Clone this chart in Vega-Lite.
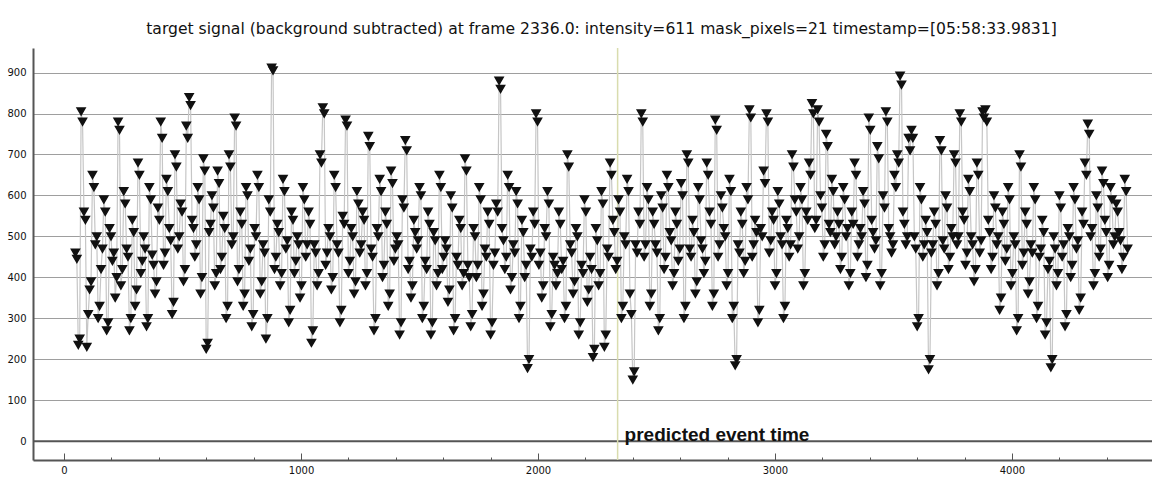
{
  "$schema": "https://vega.github.io/schema/vega-lite/v6.json",
  "autosize": "none",
  "width": 1119,
  "height": 412,
  "padding": {"left": 33, "top": 48, "right": 0, "bottom": 28},
  "background": "white",
  "config": {"view": {"stroke": null}},
  "title": {
    "text": "target signal (background subtracted) at frame 2336.0: intensity=611 mask_pixels=21 timestamp=[05:58:33.9831]",
    "font": "DejaVu Sans",
    "fontSize": 15.6,
    "fontWeight": "normal",
    "color": "#111111",
    "anchor": "middle",
    "dx": 9,
    "offset": 10
  },
  "datasets": {
    "signal": [
      {"f":48,"v":460},{"f":60,"v":235},{"f":72,"v":805},{"f":84,"v":560},{"f":96,"v":230},{"f":108,"v":370},{"f":120,"v":650},{"f":132,"v":480},{"f":144,"v":300},{"f":156,"v":420},
      {"f":168,"v":590},{"f":180,"v":270},{"f":192,"v":520},{"f":204,"v":440},{"f":216,"v":350},{"f":228,"v":780},{"f":240,"v":380},{"f":252,"v":610},{"f":264,"v":470},{"f":276,"v":270},
      {"f":288,"v":540},{"f":300,"v":330},{"f":312,"v":680},{"f":324,"v":410},{"f":336,"v":500},{"f":348,"v":280},{"f":360,"v":620},{"f":372,"v":455},{"f":384,"v":360},{"f":396,"v":570},
      {"f":408,"v":780},{"f":420,"v":430},{"f":432,"v":640},{"f":444,"v":520},{"f":456,"v":310},{"f":468,"v":700},{"f":480,"v":470},{"f":492,"v":580},{"f":504,"v":390},{"f":516,"v":770},
      {"f":528,"v":840},{"f":540,"v":540},{"f":552,"v":450},{"f":564,"v":620},{"f":576,"v":360},{"f":588,"v":690},{"f":600,"v":225},{"f":612,"v":510},{"f":624,"v":600},{"f":636,"v":380},
      {"f":648,"v":660},{"f":660,"v":420},{"f":672,"v":550},{"f":684,"v":300},{"f":696,"v":700},{"f":708,"v":480},{"f":720,"v":790},{"f":732,"v":390},{"f":744,"v":560},{"f":756,"v":330},
      {"f":768,"v":620},{"f":780,"v":440},{"f":792,"v":280},{"f":804,"v":520},{"f":816,"v":650},{"f":828,"v":360},{"f":840,"v":480},{"f":852,"v":250},{"f":864,"v":590},{"f":876,"v":912},
      {"f":888,"v":420},{"f":900,"v":530},{"f":912,"v":380},{"f":924,"v":640},{"f":936,"v":470},{"f":948,"v":290},{"f":960,"v":560},{"f":972,"v":410},{"f":984,"v":500},{"f":996,"v":350},
      {"f":1008,"v":620},{"f":1020,"v":450},{"f":1032,"v":560},{"f":1044,"v":240},{"f":1056,"v":480},{"f":1068,"v":380},{"f":1080,"v":700},{"f":1092,"v":815},{"f":1104,"v":430},{"f":1116,"v":520},
      {"f":1128,"v":370},{"f":1140,"v":650},{"f":1152,"v":480},{"f":1164,"v":290},{"f":1176,"v":550},{"f":1188,"v":785},{"f":1200,"v":410},{"f":1212,"v":520},{"f":1224,"v":360},{"f":1236,"v":610},
      {"f":1248,"v":460},{"f":1260,"v":560},{"f":1272,"v":380},{"f":1284,"v":745},{"f":1296,"v":470},{"f":1308,"v":270},{"f":1320,"v":520},{"f":1332,"v":640},{"f":1344,"v":400},{"f":1356,"v":560},
      {"f":1368,"v":330},{"f":1380,"v":660},{"f":1392,"v":440},{"f":1404,"v":500},{"f":1416,"v":260},{"f":1428,"v":590},{"f":1440,"v":735},{"f":1452,"v":420},{"f":1464,"v":350},{"f":1476,"v":540},
      {"f":1488,"v":470},{"f":1500,"v":620},{"f":1512,"v":300},{"f":1524,"v":440},{"f":1536,"v":560},{"f":1548,"v":260},{"f":1560,"v":510},{"f":1572,"v":380},{"f":1584,"v":650},{"f":1596,"v":420},
      {"f":1608,"v":490},{"f":1620,"v":340},{"f":1632,"v":600},{"f":1644,"v":270},{"f":1656,"v":450},{"f":1668,"v":540},{"f":1680,"v":380},{"f":1692,"v":690},{"f":1704,"v":430},{"f":1716,"v":280},
      {"f":1728,"v":520},{"f":1740,"v":400},{"f":1752,"v":620},{"f":1764,"v":330},{"f":1776,"v":470},{"f":1788,"v":560},{"f":1800,"v":260},{"f":1812,"v":430},{"f":1824,"v":580},{"f":1836,"v":880},
      {"f":1848,"v":520},{"f":1860,"v":420},{"f":1872,"v":650},{"f":1884,"v":370},{"f":1896,"v":480},{"f":1908,"v":610},{"f":1920,"v":300},{"f":1932,"v":540},{"f":1944,"v":400},{"f":1956,"v":178},
      {"f":1968,"v":470},{"f":1980,"v":560},{"f":1992,"v":800},{"f":2004,"v":430},{"f":2016,"v":350},{"f":2028,"v":520},{"f":2040,"v":610},{"f":2052,"v":280},{"f":2064,"v":450},{"f":2076,"v":380},
      {"f":2088,"v":560},{"f":2100,"v":420},{"f":2112,"v":300},{"f":2124,"v":700},{"f":2136,"v":480},{"f":2148,"v":360},{"f":2160,"v":520},{"f":2172,"v":260},{"f":2184,"v":430},{"f":2196,"v":590},
      {"f":2208,"v":340},{"f":2220,"v":450},{"f":2232,"v":205},{"f":2244,"v":520},{"f":2256,"v":380},{"f":2268,"v":610},{"f":2280,"v":230},{"f":2292,"v":470},{"f":2304,"v":680},{"f":2316,"v":540},
      {"f":2328,"v":420},{"f":2340,"v":590},{"f":2352,"v":300},{"f":2364,"v":500},{"f":2376,"v":640},{"f":2388,"v":360},{"f":2400,"v":150},{"f":2412,"v":480},{"f":2424,"v":560},{"f":2436,"v":800},
      {"f":2448,"v":450},{"f":2460,"v":620},{"f":2472,"v":330},{"f":2484,"v":560},{"f":2496,"v":480},{"f":2508,"v":270},{"f":2520,"v":600},{"f":2532,"v":420},{"f":2544,"v":650},{"f":2556,"v":510},
      {"f":2568,"v":380},{"f":2580,"v":560},{"f":2592,"v":440},{"f":2604,"v":630},{"f":2616,"v":300},{"f":2628,"v":700},{"f":2640,"v":470},{"f":2652,"v":540},{"f":2664,"v":360},{"f":2676,"v":620},
      {"f":2688,"v":490},{"f":2700,"v":410},{"f":2712,"v":680},{"f":2724,"v":560},{"f":2736,"v":330},{"f":2748,"v":785},{"f":2760,"v":450},{"f":2772,"v":600},{"f":2784,"v":520},{"f":2796,"v":380},
      {"f":2808,"v":640},{"f":2820,"v":300},{"f":2832,"v":185},{"f":2844,"v":480},{"f":2856,"v":560},{"f":2868,"v":410},{"f":2880,"v":620},{"f":2892,"v":810},{"f":2904,"v":450},{"f":2916,"v":540},
      {"f":2928,"v":290},{"f":2940,"v":520},{"f":2952,"v":660},{"f":2964,"v":800},{"f":2976,"v":460},{"f":2988,"v":560},{"f":3000,"v":380},{"f":3012,"v":610},{"f":3024,"v":500},{"f":3036,"v":300},
      {"f":3048,"v":540},{"f":3060,"v":450},{"f":3072,"v":700},{"f":3084,"v":590},{"f":3096,"v":470},{"f":3108,"v":620},{"f":3120,"v":380},{"f":3132,"v":560},{"f":3144,"v":680},{"f":3156,"v":825},
      {"f":3168,"v":520},{"f":3180,"v":810},{"f":3192,"v":600},{"f":3204,"v":450},{"f":3216,"v":750},{"f":3228,"v":530},{"f":3240,"v":640},{"f":3252,"v":480},{"f":3264,"v":560},{"f":3276,"v":420},
      {"f":3288,"v":620},{"f":3300,"v":500},{"f":3312,"v":380},{"f":3324,"v":560},{"f":3336,"v":680},{"f":3348,"v":450},{"f":3360,"v":520},{"f":3372,"v":610},{"f":3384,"v":400},{"f":3396,"v":790},
      {"f":3408,"v":540},{"f":3420,"v":470},{"f":3432,"v":720},{"f":3444,"v":380},{"f":3456,"v":600},{"f":3468,"v":805},{"f":3480,"v":520},{"f":3492,"v":460},{"f":3504,"v":650},{"f":3516,"v":700},
      {"f":3528,"v":892},{"f":3540,"v":560},{"f":3552,"v":480},{"f":3564,"v":740},{"f":3576,"v":760},{"f":3588,"v":500},{"f":3600,"v":280},{"f":3612,"v":620},{"f":3624,"v":450},{"f":3636,"v":540},
      {"f":3648,"v":175},{"f":3660,"v":460},{"f":3672,"v":560},{"f":3684,"v":380},{"f":3696,"v":735},{"f":3708,"v":490},{"f":3720,"v":600},{"f":3732,"v":420},{"f":3744,"v":520},{"f":3756,"v":700},
      {"f":3768,"v":480},{"f":3780,"v":800},{"f":3792,"v":560},{"f":3804,"v":430},{"f":3816,"v":640},{"f":3828,"v":500},{"f":3840,"v":390},{"f":3852,"v":680},{"f":3864,"v":460},{"f":3876,"v":805},
      {"f":3888,"v":810},{"f":3900,"v":540},{"f":3912,"v":420},{"f":3924,"v":600},{"f":3936,"v":480},{"f":3948,"v":320},{"f":3960,"v":560},{"f":3972,"v":440},{"f":3984,"v":620},{"f":3996,"v":380},
      {"f":4008,"v":500},{"f":4020,"v":270},{"f":4032,"v":700},{"f":4044,"v":430},{"f":4056,"v":560},{"f":4068,"v":360},{"f":4080,"v":480},{"f":4092,"v":620},{"f":4104,"v":300},{"f":4116,"v":450},
      {"f":4128,"v":540},{"f":4140,"v":260},{"f":4152,"v":420},{"f":4164,"v":180},{"f":4176,"v":500},{"f":4188,"v":380},{"f":4200,"v":600},{"f":4212,"v":450},{"f":4224,"v":280},{"f":4236,"v":520},
      {"f":4248,"v":400},{"f":4260,"v":620},{"f":4272,"v":470},{"f":4284,"v":320},{"f":4296,"v":560},{"f":4308,"v":680},{"f":4320,"v":775},{"f":4332,"v":500},{"f":4344,"v":380},{"f":4356,"v":600},
      {"f":4368,"v":450},{"f":4380,"v":660},{"f":4392,"v":540},{"f":4404,"v":400},{"f":4416,"v":620},{"f":4428,"v":480},{"f":4440,"v":580},{"f":4452,"v":510},{"f":4464,"v":420},{"f":4476,"v":640},
      {"f":4488,"v":470},
      {"f":54,"v":445},{"f":66,"v":250},{"f":78,"v":780},{"f":90,"v":540},{"f":102,"v":310},{"f":114,"v":390},{"f":126,"v":620},{"f":138,"v":500},{"f":150,"v":330},{"f":162,"v":470},
      {"f":174,"v":560},{"f":186,"v":290},{"f":198,"v":500},{"f":210,"v":460},{"f":222,"v":400},{"f":234,"v":760},{"f":246,"v":420},{"f":258,"v":580},{"f":270,"v":450},{"f":282,"v":300},
      {"f":294,"v":510},{"f":306,"v":370},{"f":318,"v":650},{"f":330,"v":440},{"f":342,"v":470},{"f":354,"v":300},{"f":366,"v":590},{"f":378,"v":430},{"f":390,"v":390},{"f":402,"v":540},
      {"f":414,"v":740},{"f":426,"v":460},{"f":438,"v":610},{"f":450,"v":490},{"f":462,"v":340},{"f":474,"v":670},{"f":486,"v":500},{"f":498,"v":560},{"f":510,"v":420},{"f":522,"v":740},
      {"f":534,"v":820},{"f":546,"v":520},{"f":558,"v":480},{"f":570,"v":590},{"f":582,"v":400},{"f":594,"v":660},{"f":606,"v":240},{"f":618,"v":530},{"f":630,"v":570},{"f":642,"v":410},
      {"f":654,"v":630},{"f":666,"v":450},{"f":678,"v":520},{"f":690,"v":330},{"f":702,"v":670},{"f":714,"v":500},{"f":726,"v":770},{"f":738,"v":420},{"f":750,"v":530},{"f":762,"v":360},
      {"f":774,"v":600},{"f":786,"v":470},{"f":798,"v":310},{"f":810,"v":500},{"f":822,"v":620},{"f":834,"v":390},{"f":846,"v":460},{"f":858,"v":300},{"f":870,"v":560},{"f":882,"v":905},
      {"f":894,"v":450},{"f":906,"v":510},{"f":918,"v":410},{"f":930,"v":610},{"f":942,"v":490},{"f":954,"v":320},{"f":966,"v":540},{"f":978,"v":440},{"f":990,"v":480},{"f":1002,"v":380},
      {"f":1014,"v":590},{"f":1026,"v":480},{"f":1038,"v":530},{"f":1050,"v":270},{"f":1062,"v":460},{"f":1074,"v":410},{"f":1086,"v":680},{"f":1098,"v":800},{"f":1110,"v":460},{"f":1122,"v":500},
      {"f":1134,"v":400},{"f":1146,"v":620},{"f":1158,"v":460},{"f":1170,"v":320},{"f":1182,"v":530},{"f":1194,"v":770},{"f":1206,"v":440},{"f":1218,"v":500},{"f":1230,"v":390},{"f":1242,"v":580},
      {"f":1254,"v":480},{"f":1266,"v":540},{"f":1278,"v":410},{"f":1290,"v":720},{"f":1302,"v":450},{"f":1314,"v":300},{"f":1326,"v":500},{"f":1338,"v":610},{"f":1350,"v":430},{"f":1362,"v":530},
      {"f":1374,"v":360},{"f":1386,"v":630},{"f":1398,"v":470},{"f":1410,"v":480},{"f":1422,"v":290},{"f":1434,"v":570},{"f":1446,"v":710},{"f":1458,"v":440},{"f":1470,"v":380},{"f":1482,"v":510},
      {"f":1494,"v":490},{"f":1506,"v":600},{"f":1518,"v":330},{"f":1530,"v":420},{"f":1542,"v":530},{"f":1554,"v":290},{"f":1566,"v":490},{"f":1578,"v":410},{"f":1590,"v":620},{"f":1602,"v":450},
      {"f":1614,"v":470},{"f":1626,"v":370},{"f":1638,"v":570},{"f":1650,"v":300},{"f":1662,"v":430},{"f":1674,"v":520},{"f":1686,"v":410},{"f":1698,"v":660},{"f":1710,"v":400},{"f":1722,"v":310},
      {"f":1734,"v":500},{"f":1746,"v":430},{"f":1758,"v":590},{"f":1770,"v":360},{"f":1782,"v":450},{"f":1794,"v":530},{"f":1806,"v":290},{"f":1818,"v":460},{"f":1830,"v":560},{"f":1842,"v":860},
      {"f":1854,"v":490},{"f":1866,"v":450},{"f":1878,"v":620},{"f":1890,"v":400},{"f":1902,"v":460},{"f":1914,"v":580},{"f":1926,"v":330},{"f":1938,"v":510},{"f":1950,"v":430},{"f":1962,"v":200},
      {"f":1974,"v":450},{"f":1986,"v":530},{"f":1998,"v":780},{"f":2010,"v":460},{"f":2022,"v":380},{"f":2034,"v":500},{"f":2046,"v":580},{"f":2058,"v":310},{"f":2070,"v":430},{"f":2082,"v":410},
      {"f":2094,"v":530},{"f":2106,"v":440},{"f":2118,"v":330},{"f":2130,"v":670},{"f":2142,"v":460},{"f":2154,"v":390},{"f":2166,"v":500},{"f":2178,"v":290},{"f":2190,"v":410},{"f":2202,"v":560},
      {"f":2214,"v":370},{"f":2226,"v":420},{"f":2238,"v":225},{"f":2250,"v":490},{"f":2262,"v":410},{"f":2274,"v":580},{"f":2286,"v":260},{"f":2298,"v":450},{"f":2310,"v":650},{"f":2322,"v":510},
      {"f":2334,"v":440},{"f":2346,"v":560},{"f":2358,"v":330},{"f":2370,"v":480},{"f":2382,"v":610},{"f":2394,"v":310},{"f":2406,"v":170},{"f":2418,"v":460},{"f":2430,"v":530},{"f":2442,"v":780},
      {"f":2454,"v":480},{"f":2466,"v":590},{"f":2478,"v":360},{"f":2490,"v":530},{"f":2502,"v":460},{"f":2514,"v":300},{"f":2526,"v":570},{"f":2538,"v":450},{"f":2550,"v":620},{"f":2562,"v":490},
      {"f":2574,"v":410},{"f":2586,"v":530},{"f":2598,"v":470},{"f":2610,"v":600},{"f":2622,"v":330},{"f":2634,"v":680},{"f":2646,"v":450},{"f":2658,"v":510},{"f":2670,"v":390},{"f":2682,"v":590},
      {"f":2694,"v":470},{"f":2706,"v":440},{"f":2718,"v":650},{"f":2730,"v":530},{"f":2742,"v":360},{"f":2754,"v":760},{"f":2766,"v":480},{"f":2778,"v":570},{"f":2790,"v":500},{"f":2802,"v":410},
      {"f":2814,"v":610},{"f":2826,"v":330},{"f":2838,"v":200},{"f":2850,"v":460},{"f":2862,"v":530},{"f":2874,"v":440},{"f":2886,"v":590},{"f":2898,"v":790},{"f":2910,"v":480},{"f":2922,"v":510},
      {"f":2934,"v":320},{"f":2946,"v":500},{"f":2958,"v":630},{"f":2970,"v":780},{"f":2982,"v":490},{"f":2994,"v":540},{"f":3006,"v":410},{"f":3018,"v":580},{"f":3030,"v":480},{"f":3042,"v":330},
      {"f":3054,"v":520},{"f":3066,"v":480},{"f":3078,"v":670},{"f":3090,"v":560},{"f":3102,"v":500},{"f":3114,"v":590},{"f":3126,"v":410},{"f":3138,"v":540},{"f":3150,"v":650},{"f":3162,"v":800},
      {"f":3174,"v":540},{"f":3186,"v":780},{"f":3198,"v":570},{"f":3210,"v":480},{"f":3222,"v":720},{"f":3234,"v":510},{"f":3246,"v":610},{"f":3258,"v":500},{"f":3270,"v":530},{"f":3282,"v":450},
      {"f":3294,"v":590},{"f":3306,"v":520},{"f":3318,"v":410},{"f":3330,"v":530},{"f":3342,"v":650},{"f":3354,"v":480},{"f":3366,"v":500},{"f":3378,"v":580},{"f":3390,"v":430},{"f":3402,"v":760},
      {"f":3414,"v":510},{"f":3426,"v":490},{"f":3438,"v":690},{"f":3450,"v":410},{"f":3462,"v":570},{"f":3474,"v":780},{"f":3486,"v":500},{"f":3498,"v":480},{"f":3510,"v":620},{"f":3522,"v":680},
      {"f":3534,"v":870},{"f":3546,"v":530},{"f":3558,"v":500},{"f":3570,"v":710},{"f":3582,"v":740},{"f":3594,"v":470},{"f":3606,"v":300},{"f":3618,"v":590},{"f":3630,"v":480},{"f":3642,"v":510},
      {"f":3654,"v":200},{"f":3666,"v":480},{"f":3678,"v":530},{"f":3690,"v":410},{"f":3702,"v":710},{"f":3714,"v":470},{"f":3726,"v":570},{"f":3738,"v":450},{"f":3750,"v":500},{"f":3762,"v":680},
      {"f":3774,"v":500},{"f":3786,"v":780},{"f":3798,"v":540},{"f":3810,"v":460},{"f":3822,"v":610},{"f":3834,"v":480},{"f":3846,"v":420},{"f":3858,"v":650},{"f":3870,"v":490},{"f":3882,"v":790},
      {"f":3894,"v":780},{"f":3906,"v":510},{"f":3918,"v":450},{"f":3930,"v":570},{"f":3942,"v":500},{"f":3954,"v":350},{"f":3966,"v":530},{"f":3978,"v":470},{"f":3990,"v":590},{"f":4002,"v":410},
      {"f":4014,"v":480},{"f":4026,"v":300},{"f":4038,"v":670},{"f":4050,"v":460},{"f":4062,"v":530},{"f":4074,"v":390},{"f":4086,"v":460},{"f":4098,"v":590},{"f":4110,"v":330},{"f":4122,"v":470},
      {"f":4134,"v":510},{"f":4146,"v":290},{"f":4158,"v":440},{"f":4170,"v":200},{"f":4182,"v":470},{"f":4194,"v":410},{"f":4206,"v":570},{"f":4218,"v":480},{"f":4230,"v":310},{"f":4242,"v":500},
      {"f":4254,"v":430},{"f":4266,"v":590},{"f":4278,"v":490},{"f":4290,"v":350},{"f":4302,"v":530},{"f":4314,"v":650},{"f":4326,"v":750},{"f":4338,"v":520},{"f":4350,"v":410},{"f":4362,"v":570},
      {"f":4374,"v":470},{"f":4386,"v":630},{"f":4398,"v":510},{"f":4410,"v":430},{"f":4422,"v":590},{"f":4434,"v":500},{"f":4446,"v":560},{"f":4458,"v":490},{"f":4470,"v":450},{"f":4482,"v":610}
    ]
  },
  "encoding": {
    "x": {
      "type": "quantitative",
      "scale": {"domain": [-131, 4591], "nice": false, "zero": false},
      "axis": {
        "title": null,
        "values": [0,200,400,600,800,1000,1200,1400,1600,1800,2000,2200,2400,2600,2800,3000,3200,3400,3600,3800,4000,4200,4400],
        "labelExpr": "datum.value % 1000 === 0 ? datum.label : ''",
        "format": "d",
        "grid": false,
        "domainColor": "#555555",
        "domainWidth": 2,
        "tickColor": "#555555",
        "tickWidth": 1,
        "tickSize": {"expr": "datum.value % 1000 === 0 ? -7 : -3"},
        "labelFont": "DejaVu Sans",
        "labelFontSize": 10,
        "labelColor": "#111111",
        "labelPadding": 12,
        "labelFlush": false,
        "labelOverlap": false
      }
    },
    "y": {
      "type": "quantitative",
      "scale": {"domain": [-46, 960], "nice": false, "zero": false},
      "axis": {
        "title": null,
        "values": [0,100,200,300,400,500,600,700,800,900],
        "grid": true,
        "gridColor": "#9e9e9e",
        "gridWidth": 1,
        "domainColor": "#555555",
        "domainWidth": 2,
        "ticks": false,
        "labelFont": "DejaVu Sans",
        "labelFontSize": 10,
        "labelColor": "#111111",
        "labelPadding": 7,
        "labelFlush": false
      }
    }
  },
  "layer": [
    {
      "data": {"values": [{}]},
      "mark": {"type": "rule", "color": "#555555", "strokeWidth": 2},
      "encoding": {"y": {"datum": 0, "type": "quantitative"}}
    },
    {
      "data": {"values": [{}]},
      "mark": {"type": "rule", "color": "#d9dcae", "strokeWidth": 1.5},
      "encoding": {"x": {"datum": 2336, "type": "quantitative"}}
    },
    {
      "data": {"name": "signal"},
      "mark": {"type": "line", "color": "#c6c6c6", "strokeWidth": 1.2},
      "encoding": {"x": {"field": "f", "type": "quantitative"}, "y": {"field": "v", "type": "quantitative"}}
    },
    {
      "data": {"name": "signal"},
      "mark": {"type": "point", "shape": "triangle-down", "filled": true, "color": "#111111", "stroke": "#111111", "strokeWidth": 1.5, "opacity": 1, "size": 65},
      "encoding": {"x": {"field": "f", "type": "quantitative"}, "y": {"field": "v", "type": "quantitative"}}
    },
    {
      "data": {"values": [{}]},
      "mark": {"type": "text", "text": "predicted event time", "font": "Liberation Sans", "fontSize": 19, "fontWeight": "bold", "color": "#111111", "align": "left", "baseline": "alphabetic", "dx": 7, "dy": 0},
      "encoding": {"x": {"datum": 2336, "type": "quantitative"}, "y": {"datum": 0, "type": "quantitative"}}
    }
  ]
}
